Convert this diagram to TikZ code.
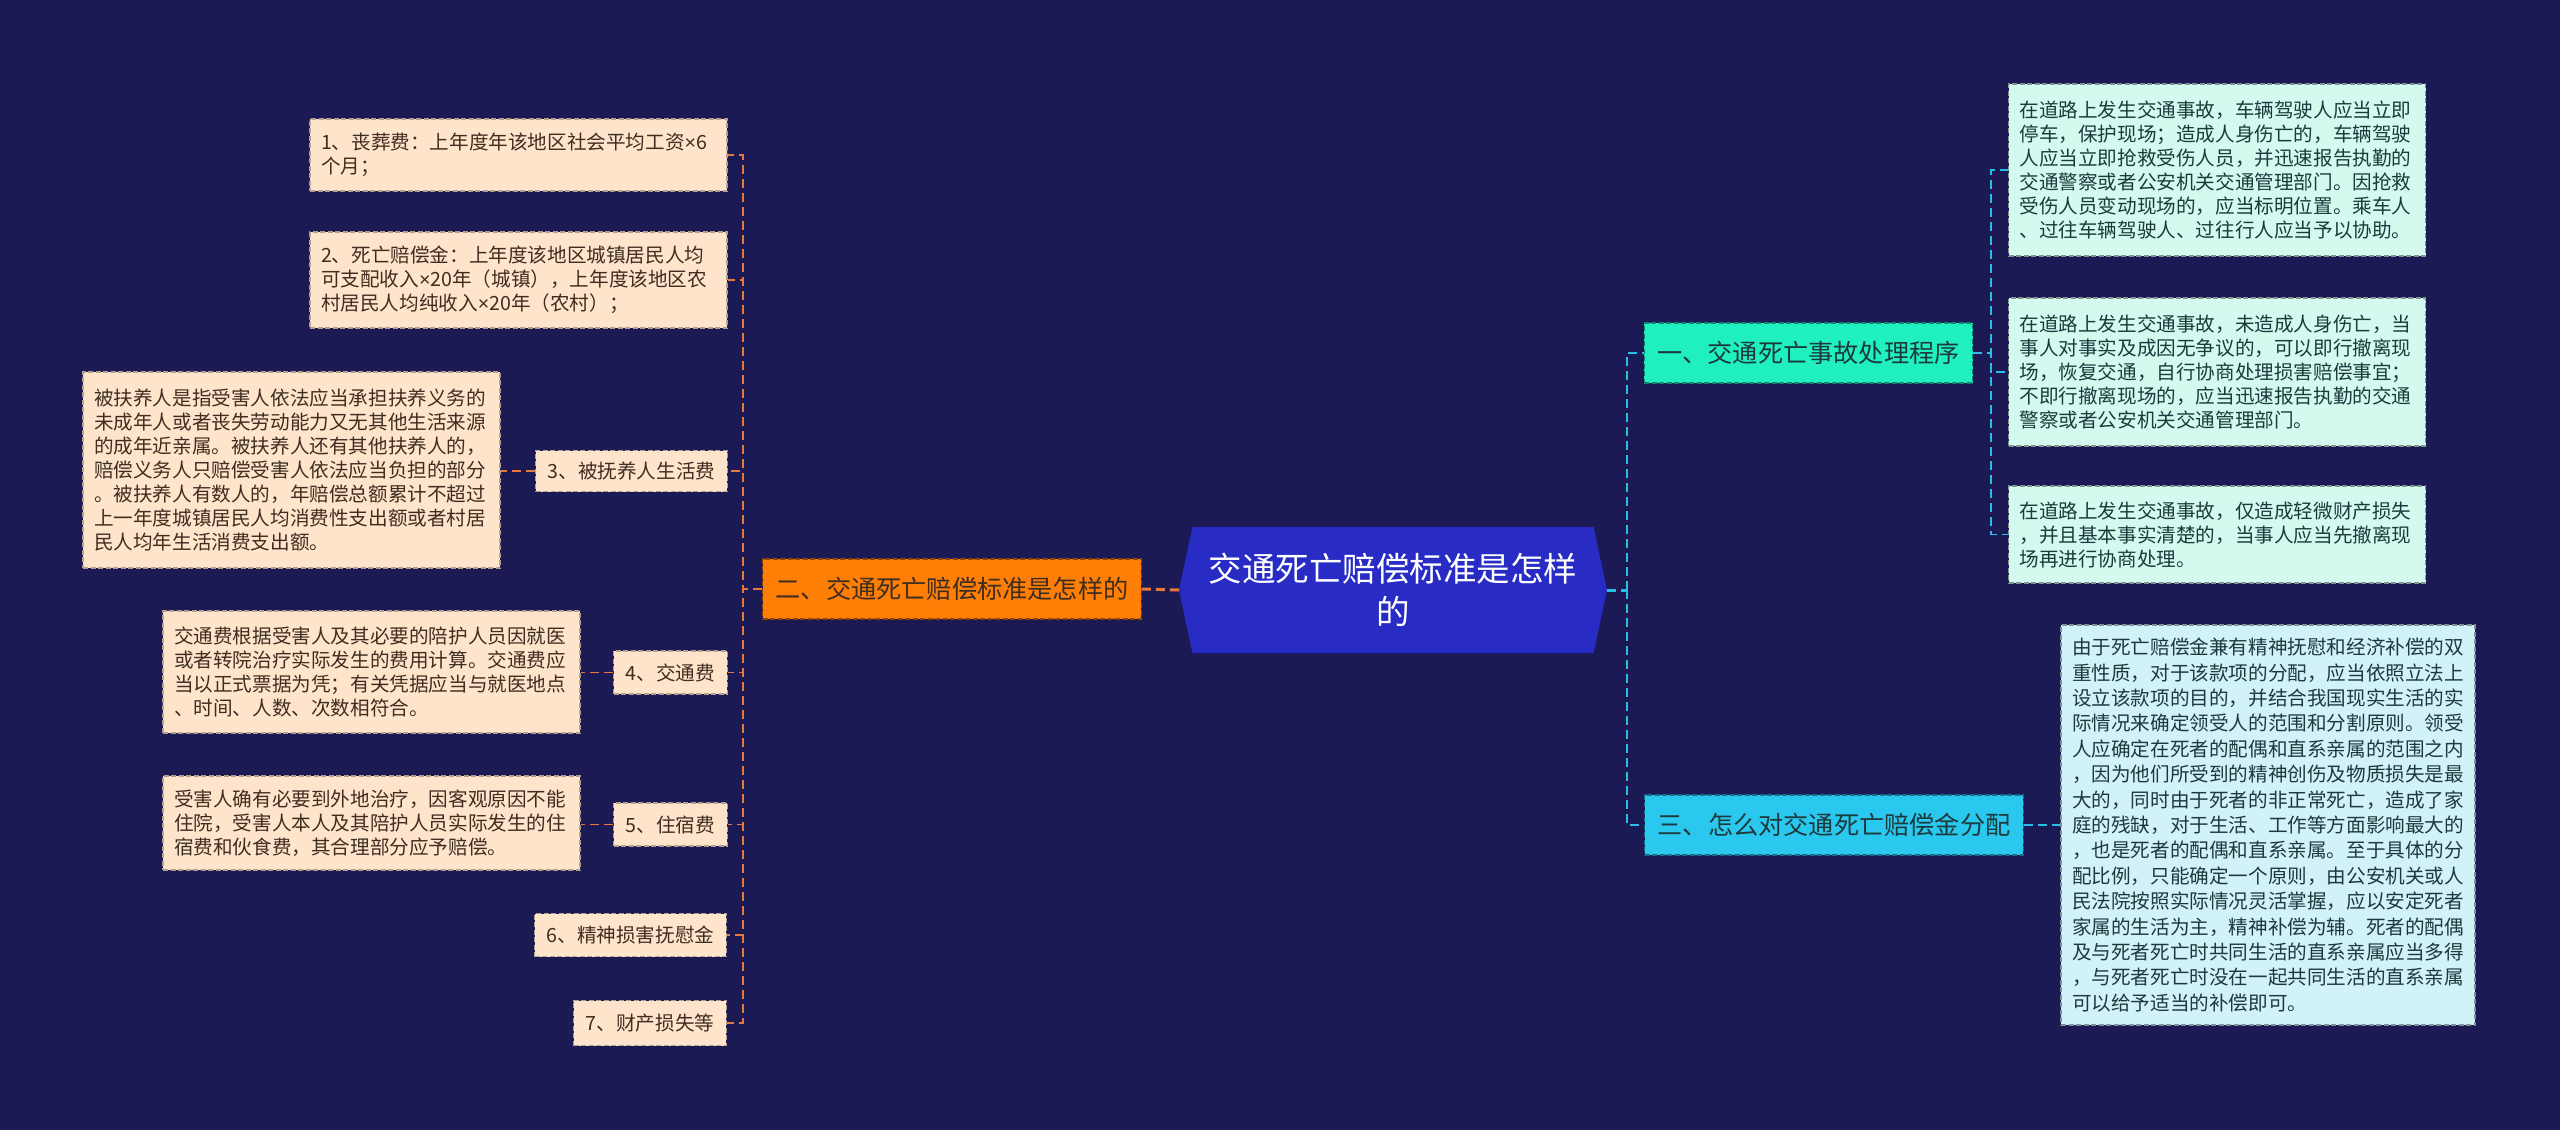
\documentclass[tikz,border=0pt]{standalone}
\usepackage{fontspec}
\setmainfont{Noto Sans CJK SC}
\newfontfamily\latinsans{Liberation Sans}
\usepackage{xcolor}
\usepackage{tikz}
\usetikzlibrary{shapes.symbols}
\definecolor{nightbg}{RGB}{27, 26, 84}
\definecolor{rootblue}{RGB}{40, 44, 196}
\definecolor{twoorange}{RGB}{255, 126, 6}
\definecolor{oneaqua}{RGB}{32, 240, 192}
\definecolor{threecyan}{RGB}{42, 200, 238}
\definecolor{peachleaf}{RGB}{255, 228, 204}
\definecolor{mintleaf}{RGB}{212, 250, 240}
\definecolor{skyleaf}{RGB}{210, 242, 250}
\definecolor{lineorange}{RGB}{232, 120, 60}
\definecolor{linecyan}{RGB}{40, 190, 230}
\definecolor{inkbrown}{RGB}{62, 46, 32}
\definecolor{inkteal}{RGB}{28, 58, 60}
\newcommand{\mulsign}{{\latinsans ×}}

\tikzset{
  boxline/.style={dash pattern=on 5pt off 2.5pt, line width=1.2pt},
  leafbox/.style={boxline, align=left, inner xsep=11pt, inner ysep=0pt,
    text width=395pt, font=\fontsize{19.6}{24}\selectfont},
  peachbox/.style={leafbox, fill=peachleaf, draw=peachleaf!70!black, text=inkbrown},
  mintbox/.style={leafbox, fill=mintleaf, draw=mintleaf!60!black, text=inkteal},
  skybox/.style={leafbox, fill=skyleaf, draw=skyleaf!60!black, text=inkteal,
    font=\fontsize{19.6}{25.4}\selectfont},
  itembox/.style={boxline, fill=peachleaf, draw=peachleaf!70!black, text=inkbrown,
    inner xsep=12pt, inner ysep=0pt, minimum height=43pt,
    font=\fontsize{19.6}{24}\selectfont},
  branchbox/.style={boxline, inner xsep=13pt, inner ysep=0pt, minimum height=60pt,
    font=\fontsize{25.2}{30}\selectfont},
  lconn/.style={lineorange, dash pattern=on 9pt off 5pt, line width=1.8pt},
  rconn/.style={linecyan, dash pattern=on 9pt off 5pt, line width=1.8pt},
}

\begin{document}
\begin{tikzpicture}[x=1pt, y=-1pt]

  % ── Canvas ────────────────────────────────────────────────────────────────
  \useasboundingbox (0, 0) rectangle (2560, 1130);
  \fill[nightbg] (0, 0) rectangle (2560, 1130);

  % ── Root ──────────────────────────────────────────────────────────────────
  \node[signal, signal to=west and east, signal pointer angle=156,
        fill=rootblue, text=white, align=center, inner sep=0pt,
        minimum width=428pt, minimum height=126pt,
        font=\fontsize{33.5}{43}\selectfont] (root) at (1393, 590)
    {交通死亡赔偿标准是怎样\\的};

  % ── Left branch: 二 ───────────────────────────────────────────────────────
  \node[branchbox, fill=twoorange, draw=twoorange!55!black, text=inkbrown]
    (br2) at (952, 589) {二、交通死亡赔偿标准是怎样的};

  \node[peachbox, minimum height=72pt] (n1) at (518.5, 155)
    {1、丧葬费：上年度年该地区社会平均工资\mulsign6\\个月；};
  \node[peachbox, minimum height=96pt] (n2) at (518.5, 280)
    {2、死亡赔偿金：上年度该地区城镇居民人均\\可支配收入\mulsign20年（城镇），上年度该地区农\\村居民人均纯收入\mulsign20年（农村）；};
  \node[itembox, minimum height=41pt] (n3) at (631.5, 471) {3、被抚养人生活费};
  \node[peachbox, minimum height=196pt] (d3) at (291.5, 470)
    {被扶养人是指受害人依法应当承担扶养义务的\\未成年人或者丧失劳动能力又无其他生活来源\\的成年近亲属。被扶养人还有其他扶养人的，\\赔偿义务人只赔偿受害人依法应当负担的部分\\。被扶养人有数人的，年赔偿总额累计不超过\\上一年度城镇居民人均消费性支出额或者村居\\民人均年生活消费支出额。};
  \node[itembox] (n4) at (670.5, 672.5) {4、交通费};
  \node[peachbox, minimum height=122pt] (d4) at (371.5, 672)
    {交通费根据受害人及其必要的陪护人员因就医\\或者转院治疗实际发生的费用计算。交通费应\\当以正式票据为凭；有关凭据应当与就医地点\\、时间、人数、次数相符合。};
  \node[itembox] (n5) at (670.5, 824.5) {5、住宿费};
  \node[peachbox, minimum height=94pt] (d5) at (371.5, 823)
    {受害人确有必要到外地治疗，因客观原因不能\\住院，受害人本人及其陪护人员实际发生的住\\宿费和伙食费，其合理部分应予赔偿。};
  \node[itembox] (n6) at (630.5, 935) {6、精神损害抚慰金};
  \node[itembox, minimum height=45pt] (n7) at (650, 1023) {7、财产损失等};

  % ── Right branch: 一 ──────────────────────────────────────────────────────
  \node[branchbox, fill=oneaqua, draw=oneaqua!55!black, text=inkteal]
    (br1) at (1808.5, 353) {一、交通死亡事故处理程序};

  \node[mintbox, minimum height=172pt] (c1) at (2217, 170)
    {在道路上发生交通事故，车辆驾驶人应当立即\\停车，保护现场；造成人身伤亡的，车辆驾驶\\人应当立即抢救受伤人员，并迅速报告执勤的\\交通警察或者公安机关交通管理部门。因抢救\\受伤人员变动现场的，应当标明位置。乘车人\\、过往车辆驾驶人、过往行人应当予以协助。};
  \node[mintbox, minimum height=148pt] (c2) at (2217, 372)
    {在道路上发生交通事故，未造成人身伤亡，当\\事人对事实及成因无争议的，可以即行撤离现\\场，恢复交通，自行协商处理损害赔偿事宜；\\不即行撤离现场的，应当迅速报告执勤的交通\\警察或者公安机关交通管理部门。};
  \node[mintbox, minimum height=97pt] (c3) at (2217, 534.5)
    {在道路上发生交通事故，仅造成轻微财产损失\\，并且基本事实清楚的，当事人应当先撤离现\\场再进行协商处理。};

  % ── Right branch: 三 ──────────────────────────────────────────────────────
  \node[branchbox, fill=threecyan, draw=threecyan!55!black, text=inkteal]
    (br3) at (1834, 825) {三、怎么对交通死亡赔偿金分配};

  \node[skybox, text width=392pt, minimum height=400pt] (c4) at (2268, 825)
    {由于死亡赔偿金兼有精神抚慰和经济补偿的双\\重性质，对于该款项的分配，应当依照立法上\\设立该款项的目的，并结合我国现实生活的实\\际情况来确定领受人的范围和分割原则。领受\\人应确定在死者的配偶和直系亲属的范围之内\\，因为他们所受到的精神创伤及物质损失是最\\大的，同时由于死者的非正常死亡，造成了家\\庭的残缺，对于生活、工作等方面影响最大的\\，也是死者的配偶和直系亲属。至于具体的分\\配比例，只能确定一个原则，由公安机关或人\\民法院按照实际情况灵活掌握，应以安定死者\\家属的生活为主，精神补偿为辅。死者的配偶\\及与死者死亡时共同生活的直系亲属应当多得\\，与死者死亡时没在一起共同生活的直系亲属\\可以给予适当的补偿即可。};

  % ── Connectors ────────────────────────────────────────────────────────────
  \coordinate (ltrunk) at (743, 589);
  \coordinate (rtrunk) at (1627, 590);
  \coordinate (onetrunk) at (1991, 353);

  \draw[lconn, line width=3pt] (root.west) -- (br2.east);
  \foreach \n in {n1, n2, n3, n4, n5, n6, n7}
    \draw[lconn] (br2.west) -- (ltrunk) |- (\n.east);
  \draw[lconn] (n3.west) -- (n3.west -| d3.east);
  \draw[lconn] (n4.west) -- (n4.west -| d4.east);
  \draw[lconn] (n5.west) -- (n5.west -| d5.east);

  \draw[rconn, line width=3pt] (root.east) -- (rtrunk);
  \foreach \n in {br1, br3}
    \draw[rconn] (rtrunk) |- (\n.west);
  \foreach \n in {c1, c2, c3}
    \draw[rconn] (br1.east) -- (onetrunk) |- (\n.west);
  \draw[rconn] (br3.east) -- (br3.east -| c4.west);

\end{tikzpicture}
\end{document}
